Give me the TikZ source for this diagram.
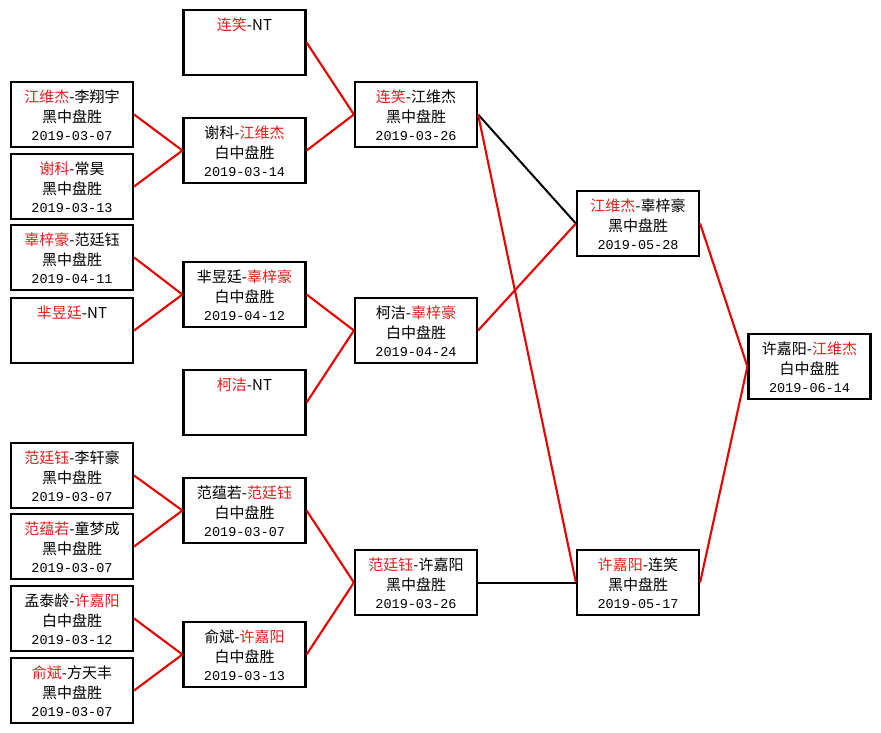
\documentclass[tikz,border=0pt]{standalone}
\usepackage{fontspec}
\setmainfont{Noto Sans CJK SC}
\newfontfamily\datefont{Liberation Mono}
\definecolor{wred}{RGB}{228,30,30}
\definecolor{lred}{RGB}{232,0,0}
\newcommand\rn[1]{\textcolor{wred}{#1}}
\newcommand\game[6]{%
  \node[box] (#1) at (#2,#3) {};
  \node[txt] (#1-a) at ([yshift=-21.5pt]#1.north) {#4};
  \node[txt] (#1-b) at ([yshift=-42pt]#1.north) {#5};
  \node[txt,font=\datefont\fontsize{13.5pt}{16pt}\selectfont] (#1-c) at ([yshift=-59.5pt]#1.north) {#6};}
\newcommand\ntgame[4]{%
  \node[box] (#1) at (#2,#3) {};
  \node[txt] (#1-a) at ([yshift=-21.5pt]#1.north) {#4};}
\begin{document}
\begin{tikzpicture}[x=1pt,y=-1pt,
  box/.style={draw=black,line width=2.2pt,fill=white,minimum width=122pt,minimum height=65pt,inner sep=0pt},
  txt/.style={anchor=base,inner sep=0pt,font=\fontsize{15pt}{18pt}\selectfont},
  rl/.style={draw=lred,line width=2.1pt},
  bl/.style={draw=black,line width=2pt}]
\path[use as bounding box,fill=white] (0,0) rectangle (881,733);
% column 1
\game{L1a}{72}{114.5}{\rn{江维杰}-李翔宇}{黑中盘胜}{2019-03-07}
\game{L1b}{72}{186.5}{\rn{谢科}-常昊}{黑中盘胜}{2019-03-13}
\game{L1c}{72}{257.5}{\rn{辜梓豪}-范廷钰}{黑中盘胜}{2019-04-11}
\ntgame{L1d}{72}{330.5}{\rn{芈昱廷}-NT}
\game{L1e}{72}{475.5}{\rn{范廷钰}-李轩豪}{黑中盘胜}{2019-03-07}
\game{L1f}{72}{546.5}{\rn{范蕴若}-童梦成}{黑中盘胜}{2019-03-07}
\game{L1g}{72}{618.5}{孟泰龄-\rn{许嘉阳}}{白中盘胜}{2019-03-12}
\game{L1h}{72}{690.5}{\rn{俞斌}-方天丰}{黑中盘胜}{2019-03-07}
% column 2
\ntgame{C2a}{244.5}{42.5}{\rn{连笑}-NT}
\game{C2b}{244.5}{150.5}{谢科-\rn{江维杰}}{白中盘胜}{2019-03-14}
\game{C2c}{244.5}{294.5}{芈昱廷-\rn{辜梓豪}}{白中盘胜}{2019-04-12}
\ntgame{C2d}{244.5}{402.5}{\rn{柯洁}-NT}
\game{C2e}{244.5}{510.5}{范蕴若-\rn{范廷钰}}{白中盘胜}{2019-03-07}
\game{C2f}{244.5}{654.5}{俞斌-\rn{许嘉阳}}{白中盘胜}{2019-03-13}
% column 3
\game{C3a}{416}{114.5}{\rn{连笑}-江维杰}{黑中盘胜}{2019-03-26}
\game{C3b}{416}{330.5}{柯洁-\rn{辜梓豪}}{白中盘胜}{2019-04-24}
\game{C3c}{416}{582.5}{\rn{范廷钰}-许嘉阳}{黑中盘胜}{2019-03-26}
% column 4
\game{C4a}{638}{223.5}{\rn{江维杰}-辜梓豪}{黑中盘胜}{2019-05-28}
\game{C4b}{638}{582.5}{\rn{许嘉阳}-连笑}{黑中盘胜}{2019-05-17}
% column 5
\game{C5}{809.5}{366.5}{许嘉阳-\rn{江维杰}}{白中盘胜}{2019-06-14}
% connectors
\draw[rl] (L1a.east) -- (C2b.west);
\draw[rl] (L1b.east) -- (C2b.west);
\draw[rl] (L1c.east) -- (C2c.west);
\draw[rl] (L1d.east) -- (C2c.west);
\draw[rl] (L1e.east) -- (C2e.west);
\draw[rl] (L1f.east) -- (C2e.west);
\draw[rl] (L1g.east) -- (C2f.west);
\draw[rl] (L1h.east) -- (C2f.west);
\draw[rl] (C2a.east) -- (C3a.west);
\draw[rl] (C2b.east) -- (C3a.west);
\draw[rl] (C2c.east) -- (C3b.west);
\draw[rl] (C2d.east) -- (C3b.west);
\draw[rl] (C2e.east) -- (C3c.west);
\draw[rl] (C2f.east) -- (C3c.west);
\draw[bl] (C3a.east) -- (C4a.west);
\draw[rl] (C3b.east) -- (C4a.west);
\draw[rl] (C3a.east) -- (C4b.west);
\draw[bl] (C3c.east) -- (C4b.west);
\draw[rl] (C4a.east) -- (C5.west);
\draw[rl] (C4b.east) -- (C5.west);
\end{tikzpicture}
\end{document}
